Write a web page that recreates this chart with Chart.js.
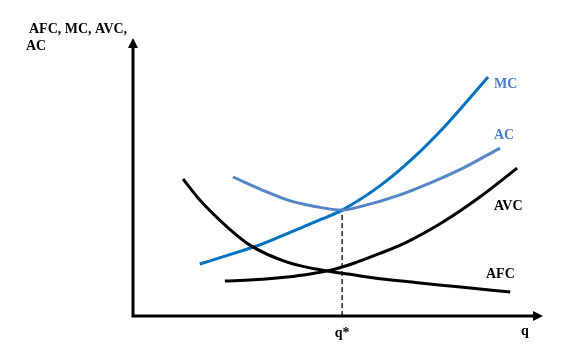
<!DOCTYPE html>
<html>
<head>
<meta charset="utf-8">
<script src="https://cdn.jsdelivr.net/npm/chart.js@4"></script>
<style>
  html, body { margin: 0; padding: 0; background: #fff; }
  #wrap { width: 582px; height: 364px; position: relative; }
</style>
</head>
<body>
<div id="wrap"><canvas id="chart"></canvas></div>
<script>
// ---------- DATA (quantity q on x, cost on y) ----------
const mcQ  = [1.63, 2.32, 3.15, 3.95, 4.61, 5.10, 6.02, 6.83, 7.66, 8.66];
const mcC  = [1.87, 2.19, 2.59, 3.08, 3.49, 3.81, 4.68, 5.68, 6.91, 8.60];
const acQ  = [2.44, 3.15, 3.78, 4.44, 5.10, 5.61, 6.44, 7.24, 8.05, 8.95];
const acC  = [5.00, 4.53, 4.17, 3.94, 3.81, 3.96, 4.32, 4.78, 5.32, 6.04];
const avcQ = [2.24, 2.93, 3.76, 4.39, 4.80, 5.37, 6.02, 6.68, 7.56, 8.46, 9.37];
const avcC = [1.26, 1.30, 1.40, 1.53, 1.64, 1.89, 2.25, 2.66, 3.38, 4.28, 5.32];
const afcQ = [1.22, 1.63, 2.32, 2.85, 3.76, 4.73, 5.37, 6.20, 7.00, 8.05, 9.20];
const afcC = [4.93, 4.17, 3.17, 2.55, 1.94, 1.62, 1.48, 1.31, 1.19, 1.03, 0.86];
const qStar = 5.10, cStar = 3.81;
const yTitle = ["AFC, MC, AVC,", "AC"];
const xTitle = "q";
const qStarLabel = "q*";

function pts(xs, ys) { return xs.map((x, i) => ({ x, y: ys[i] })); }

const FONT = "bold 14px 'Liberation Serif', 'Times New Roman', serif";

// axes with arrows, dashed q* line, text labels
const econPlugin = {
  id: "econ",
  beforeDatasetsDraw(chart) {
    const { ctx, scales: { x, y } } = chart;
    const x0 = x.getPixelForValue(0), y0 = y.getPixelForValue(0);
    const xEnd = x.getPixelForValue(10), yEnd = y.getPixelForValue(10);
    ctx.save();
    ctx.strokeStyle = "#000"; ctx.fillStyle = "#000"; ctx.lineWidth = 3;
    ctx.beginPath();
    ctx.moveTo(x0, y0); ctx.lineTo(x0, yEnd + 8);
    ctx.moveTo(x0 - 1.5, y0); ctx.lineTo(xEnd - 9, y0);
    ctx.stroke();
    // arrow heads
    ctx.beginPath();
    ctx.moveTo(x0, yEnd); ctx.lineTo(x0 - 5, yEnd + 10); ctx.lineTo(x0 + 5, yEnd + 10); ctx.closePath();
    ctx.fill();
    ctx.beginPath();
    ctx.moveTo(xEnd, y0); ctx.lineTo(xEnd - 10, y0 - 5); ctx.lineTo(xEnd - 10, y0 + 5); ctx.closePath();
    ctx.fill();
    // dashed q*
    ctx.lineWidth = 1.3;
    ctx.setLineDash([5, 3]);
    ctx.beginPath();
    ctx.moveTo(x.getPixelForValue(qStar), y0);
    ctx.lineTo(x.getPixelForValue(qStar), y.getPixelForValue(cStar));
    ctx.stroke();
    ctx.restore();
  },
  afterDatasetsDraw(chart) {
    const { ctx, scales: { x, y } } = chart;
    const y0 = y.getPixelForValue(0);
    ctx.save();
    ctx.font = FONT;
    ctx.textBaseline = "middle";
    ctx.fillStyle = "#000";
    ctx.textAlign = "left";
    ctx.fillText(yTitle[0], 29, 29);
    ctx.fillText(yTitle[1], 26, 46);
    ctx.textAlign = "center";
    ctx.fillText(qStarLabel, x.getPixelForValue(qStar), y0 + 17);
    ctx.fillText(xTitle, 525, y0 + 15);
    ctx.textAlign = "left";
    ctx.fillStyle = "#4a7cc0";
    ctx.fillText("MC", 494, 84);
    ctx.fillText("AC", 494, 135);
    ctx.fillStyle = "#000";
    ctx.fillText("AVC", 494, 206);
    ctx.fillText("AFC", 486, 274);
    ctx.restore();
  }
};

const common = { fill: false, pointRadius: 0, borderWidth: 3, cubicInterpolationMode: "monotone", showLine: true };

new Chart(document.getElementById("chart"), {
  type: "scatter",
  data: {
    datasets: [
      { label: "AFC", data: pts(afcQ, afcC), borderColor: "#000", ...common },
      { label: "AVC", data: pts(avcQ, avcC), borderColor: "#000", ...common },
      { label: "AC",  data: pts(acQ, acC),   borderColor: "#5585c5", ...common },
      { label: "MC",  data: pts(mcQ, mcC),   borderColor: "#0070c0", ...common }
    ]
  },
  options: {
    responsive: true,
    maintainAspectRatio: false,
    animation: false,
    layout: { padding: { left: 133, right: 39, top: 38, bottom: 48 } },
    plugins: { legend: { display: false }, tooltip: { enabled: false } },
    scales: {
      x: { type: "linear", min: 0, max: 10, display: false },
      y: { type: "linear", min: 0, max: 10, display: false }
    }
  },
  plugins: [econPlugin]
});
</script>
</body>
</html>
